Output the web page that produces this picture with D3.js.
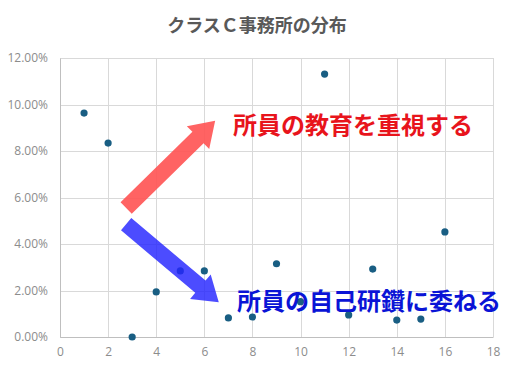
<!DOCTYPE html>
<html><head><meta charset="utf-8">
<script src="https://cdn.jsdelivr.net/npm/d3@7"></script>
<style>
body{margin:0;background:#fff;}
svg{display:block;}
</style></head>
<body>
<svg id="c" width="519" height="370"></svg>
<script>
const title = "クラスＣ事務所の分布";
const xValues = [1,2,3,4,5,6,7,8,9,10,11,12,13,14,15,16];
const yValues = [0.0963,0.0834,0.0000,0.0194,0.0284,0.0284,0.0082,0.0086,0.0315,0.0152,0.1131,0.0095,0.0292,0.0073,0.0077,0.0452];
const xTicks = [0,2,4,6,8,10,12,14,16,18];
const yTicks = [0,0.02,0.04,0.06,0.08,0.10,0.12];
const noteUp = "所員の教育を重視する";
const noteDown = "所員の自己研鑽に委ねる";
// annotation arrows in data units: [x0,y0,x1,y1]
const arrowUp = [2.75, 0.0555, 6.45, 0.0930];
const arrowDown = [2.75, 0.0485, 6.6, 0.0150];

const svg = d3.select("#c");
const m = {l:60, r:26, t:58, b:33};
const W = 519, H = 370;
const x = d3.scaleLinear().domain([0,18]).range([m.l, W-m.r]);
const y = d3.scaleLinear().domain([0,0.12]).range([H-m.b, m.t]);
const font = "'Noto Sans CJK JP','Noto Sans',sans-serif";

svg.append("text").attr("x",257).attr("y",32).attr("text-anchor","middle")
  .attr("font-family",font).attr("font-size",18).attr("font-weight","bold")
  .attr("fill","#595959").text(title);

// grid
const g = svg.append("g");
g.selectAll("line.h").data(yTicks).join("line")
  .attr("x1",x(0)).attr("x2",x(18)).attr("y1",d=>Math.round(y(d))+0.5).attr("y2",d=>Math.round(y(d))+0.5)
  .attr("stroke","#d9d9d9").attr("stroke-width",1);
g.selectAll("line.v").data(xTicks).join("line")
  .attr("y1",y(0)).attr("y2",y(0.12)).attr("x1",d=>Math.round(x(d))+0.5).attr("x2",d=>Math.round(x(d))+0.5)
  .attr("stroke","#d9d9d9").attr("stroke-width",1);

// axes
const ya = d3.axisLeft(y).tickValues(yTicks).tickFormat(d3.format(".2%")).tickSize(0).tickPadding(12);
const xa = d3.axisBottom(x).tickValues(xTicks).tickFormat(d3.format("d")).tickSize(0).tickPadding(10);
const ga = svg.append("g").attr("transform",`translate(${x(0)},0)`).call(ya);
const gb = svg.append("g").attr("transform",`translate(0,${y(0)})`).call(xa);
[ga,gb].forEach(a=>{
  a.select(".domain").attr("stroke","#bfbfbf");
  a.selectAll("text").attr("fill","#8c8c8c").attr("font-size",12).attr("font-family","'Open Sans','Noto Sans',sans-serif");
});

// arrows
function arrowPath(c, shaft, headW, headL){
  const x0=x(c[0]), y0=y(c[1]), x1=x(c[2]), y1=y(c[3]);
  const dx=x1-x0, dy=y1-y0, L=Math.hypot(dx,dy);
  const ux=dx/L, uy=dy/L, px=-uy, py=ux;
  const bx=x1-ux*headL, by=y1-uy*headL;
  const pts=[
    [x0+px*shaft/2, y0+py*shaft/2],
    [bx+px*shaft/2, by+py*shaft/2],
    [bx+px*headW/2, by+py*headW/2],
    [x1, y1],
    [bx-px*headW/2, by-py*headW/2],
    [bx-px*shaft/2, by-py*shaft/2],
    [x0-px*shaft/2, y0-py*shaft/2]
  ];
  return "M"+pts.map(p=>p.join(",")).join("L")+"Z";
}
svg.append("path").attr("d",arrowPath(arrowUp,16,32,24)).attr("fill","#ff5252").attr("opacity",0.9);

// points
svg.append("g").selectAll("circle").data(xValues).join("circle")
  .attr("cx",(d)=>x(d)).attr("cy",(d,i)=>y(yValues[i])).attr("r",3.6)
  .attr("fill","#195e83");

svg.append("path").attr("d",arrowPath(arrowDown,16,32,24)).attr("fill","#2424ff").attr("opacity",0.82);

// notes
svg.append("text").attr("x",233).attr("y",134).attr("font-family",font)
  .attr("font-size",24).attr("font-weight","bold").attr("fill","#e8141c").text(noteUp);
svg.append("text").attr("x",237).attr("y",310).attr("font-family",font)
  .attr("font-size",24).attr("font-weight","bold").attr("fill","#0a14d6").text(noteDown);
</script>
</body></html>
